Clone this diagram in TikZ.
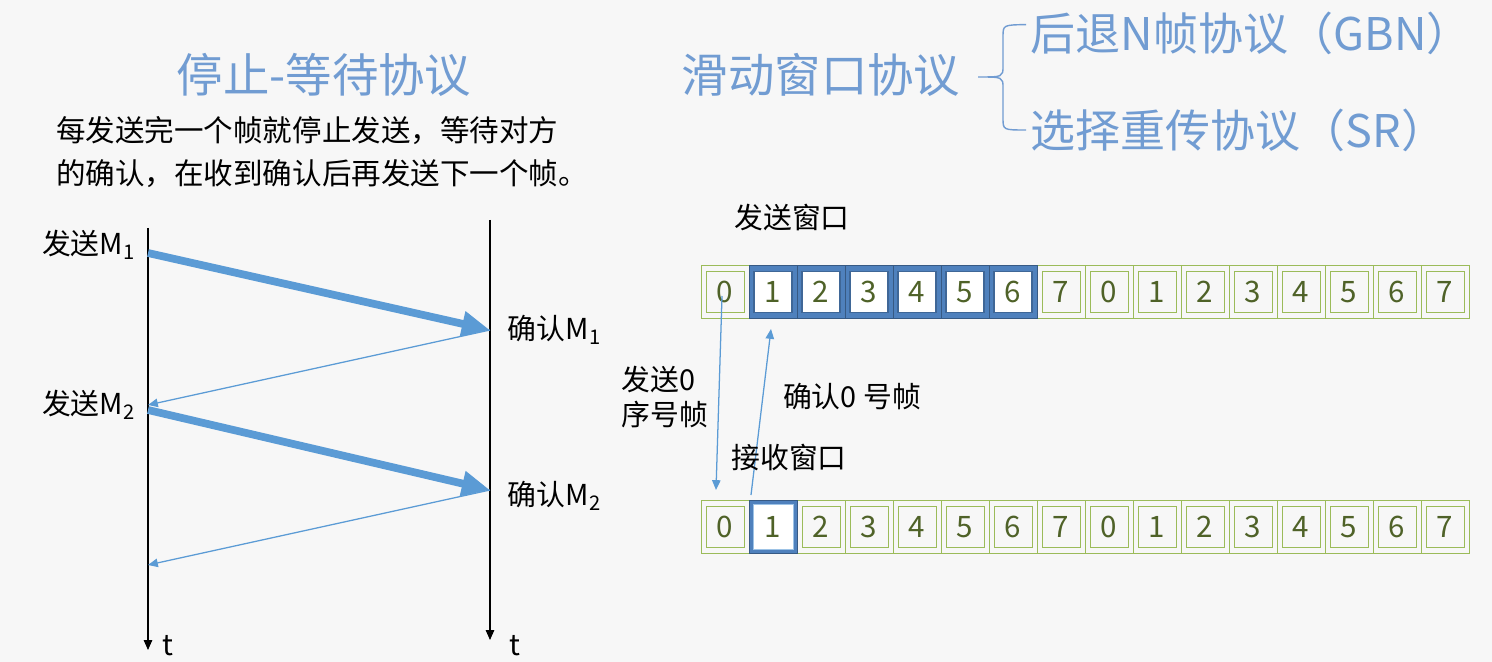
\documentclass[tikz,border=0pt]{standalone}
\usepackage{fontspec}
\setmainfont{Noto Sans CJK SC}
\usetikzlibrary{arrows.meta}
\definecolor{titleblue}{HTML}{719CD2}
\definecolor{boxgreen}{HTML}{9BBB59}
\definecolor{digitgreen}{HTML}{4F6228}
\definecolor{winblue}{HTML}{4F81BD}
\definecolor{arrowblue}{HTML}{5B9BD5}
\definecolor{pagegray}{HTML}{F7F7F7}
\begin{document}
\begin{tikzpicture}[x=0.025cm,y=-0.025cm]
		\tikzstyle{title}   = [text=titleblue,font=\fontsize{33}{38}\selectfont]
		\tikzstyle{sub}     = [text=titleblue,font=\fontsize{32}{37}\selectfont,anchor=west]
		\tikzstyle{label}   = [font=\fontsize{20.5}{25}\selectfont]
		\tikzstyle{cell}    = [draw=boxgreen,line width=0.6pt,minimum width=1.2cm,minimum height=1.325cm,inner sep=0pt]
		\tikzstyle{inbox}   = [draw=boxgreen,line width=0.6pt,minimum width=0.95cm,minimum height=1.025cm,inner sep=0pt,text=digitgreen,font=\fontsize{21}{24}\selectfont]
		\tikzstyle{wincell} = [cell,fill=winblue,draw=winblue!70!black]
		\tikzstyle{winbox}  = [inbox,fill=white,draw=winblue!80!black,line width=1pt]
		\tikzstyle{timeline}= [black,line width=0.8pt,-{Triangle[length=7pt,width=6pt]}]
		\tikzstyle{frame}   = [arrowblue,line width=5.5pt,-{Triangle[length=20pt,width=17pt]}]
		\tikzstyle{ack}     = [arrowblue,line width=0.9pt,-{Triangle[length=7pt,width=6pt]}]
		
		\fill[pagegray] (0,0) rectangle (1492,662);
		\useasboundingbox (0,0) rectangle (1492,662);
		
		\node[title] (sw)   at (324,75)  {停止-等待协议};
		\node[label,align=left,font=\fontsize{21}{31}\selectfont] (desc) at (322,152) {每发送完一个帧就停止发送，等待对方\\的确认，在收到确认后再发送下一个帧。};
		
		\coordinate (a0) at (148,228);
		\coordinate (a1) at (148,650);
		\coordinate (b0) at (490,220);
		\coordinate (b1) at (490,640);
		\draw[timeline] (a0) -- (a1);
		\draw[timeline] (b0) -- (b1);
		\node[label] (ta) at (168,646) {t};
		\node[label] (tb) at (515,646) {t};
		
		\coordinate (p1) at (148,253);
		\coordinate (q1) at (490,330);
		\coordinate (p2) at (148,405);
		\coordinate (p2s) at (148,410);
		\coordinate (q2) at (490,490);
		\coordinate (p3) at (148,565);
		\draw[frame] (p1) -- (q1);
		\draw[ack]   (q1) -- (p2);
		\draw[frame] (p2s) -- (q2);
		\draw[ack]   (q2) -- (p3);
		
		\node[label,anchor=east] (send1) at (140,245) {发送M\textsubscript{1}};
		\node[label,anchor=west] (conf1) at (503,330) {确认M\textsubscript{1}};
		\node[label,anchor=east] (send2) at (140,405) {发送M\textsubscript{2}};
		\node[label,anchor=west] (conf2) at (503,496) {确认M\textsubscript{2}};
		
		\node[title] (slide) at (821,75) {滑动窗口协议};
		\node[sub] (gbn) at (1026,33)  {后退N帧协议（GBN）};
		\node[sub] (sr)  at (1026,130) {选择重传协议（SR）};
		\draw[titleblue,line width=1pt] ([yshift=6pt]gbn.west) .. controls (1003,25) .. (1003,37) -- (1003,66) .. controls (1003,77) .. (978,77) .. controls (1003,77) .. (1003,88) -- (1003,118) .. controls (1003,130) .. (sr.west);
		
		\node[label] (sendwin) at (792,218) {发送窗口};
		\foreach \i [evaluate=\i as \n using {int(mod(\i,8))}] in {0,...,15} {
			\node[cell]  (s\i) at ({725+48*\i},292) {};
			\node[inbox] (si\i) at (s\i) {\n};
			\node[cell]  (r\i) at ({725+48*\i},527) {};
			\node[inbox] (ri\i) at (r\i) {\n};
		}
		\foreach \i in {1,...,6} {
			\node[wincell] at (s\i) {};
			\node[winbox] at (s\i) {\i};
		}
		\node[wincell] at (r1) {};
		\node[inbox,fill=white,draw=arrowblue!60,minimum width=1.0cm,minimum height=1.125cm] at (r1) {1};
		
		\coordinate (out0) at (722,296);
		\coordinate (in0)  at (716,490);
		\coordinate (ackfrom) at (751,495);
		\coordinate (ackto)   at (771,329);
		\draw[ack] (out0) -- (in0);
		\draw[ack] (ackfrom) -- (ackto);
		
		\node[label,align=left,anchor=west] (sent0) at (617,397) {发送0\\序号帧};
		\node[label] (ack0) at (852,397) {确认0 号帧};
		\node[label] (recvwin) at (789,457) {接收窗口};
	\end{tikzpicture}
\end{document}
